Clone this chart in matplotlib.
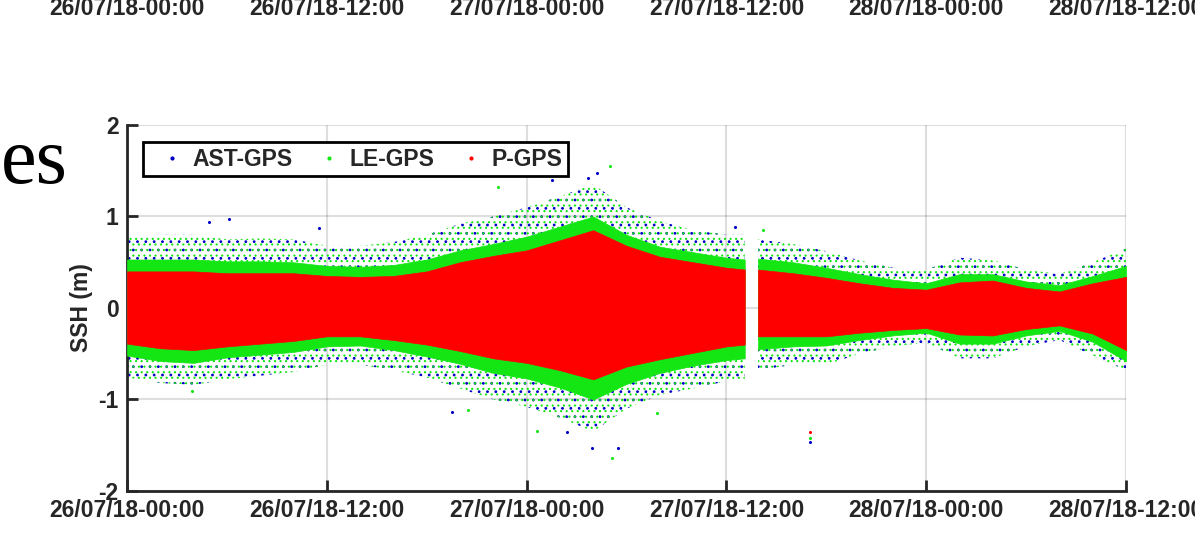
import matplotlib
matplotlib.use('Agg')
import matplotlib.pyplot as plt
from matplotlib.lines import Line2D

plt.rcParams['font.family'] = ['Liberation Sans', 'DejaVu Sans']
plt.rcParams['font.weight'] = 'bold'
plt.rcParams['hatch.linewidth'] = 0.8

# hours since 26/07/18 00:00, record split by the gap around 27/07 13:00
hours_a = [0, 2, 4, 6, 8, 10, 12, 14, 16, 18, 20, 22, 24, 26, 28, 30, 32, 34, 36, 37.1]
hours_b = [37.9, 40, 42, 44, 46, 48, 50, 52, 54, 56, 58, 60]

# P-GPS (red) spread
p_hi_a = [0.40, 0.40, 0.40, 0.38, 0.38, 0.38, 0.35, 0.34, 0.35, 0.40, 0.50, 0.57, 0.63, 0.74, 0.85, 0.68, 0.56, 0.50, 0.44, 0.42]
p_lo_a = [-0.39, -0.44, -0.46, -0.42, -0.39, -0.36, -0.31, -0.31, -0.35, -0.40, -0.47, -0.55, -0.60, -0.68, -0.78, -0.64, -0.56, -0.49, -0.42, -0.40]
p_hi_b = [0.42, 0.38, 0.33, 0.27, 0.22, 0.20, 0.28, 0.30, 0.22, 0.18, 0.27, 0.34]
p_lo_b = [-0.31, -0.31, -0.31, -0.27, -0.24, -0.22, -0.29, -0.30, -0.23, -0.19, -0.28, -0.46]

# LE-GPS (green) dense spread
le_hi_a = [0.53, 0.53, 0.53, 0.51, 0.51, 0.50, 0.46, 0.45, 0.47, 0.53, 0.63, 0.70, 0.78, 0.89, 1.00, 0.80, 0.67, 0.61, 0.55, 0.53]
le_lo_a = [-0.52, -0.58, -0.60, -0.54, -0.51, -0.48, -0.42, -0.41, -0.46, -0.53, -0.61, -0.71, -0.77, -0.87, -1.00, -0.83, -0.71, -0.63, -0.57, -0.55]
le_hi_b = [0.54, 0.50, 0.44, 0.37, 0.31, 0.27, 0.37, 0.37, 0.29, 0.25, 0.35, 0.46]
le_lo_b = [-0.45, -0.42, -0.41, -0.35, -0.30, -0.27, -0.39, -0.39, -0.30, -0.25, -0.37, -0.58]

# AST-GPS (blue) and LE-GPS (green) sparse outer spread
ast_hi_a = [0.78, 0.80, 0.80, 0.75, 0.76, 0.75, 0.68, 0.68, 0.72, 0.80, 0.92, 1.00, 1.10, 1.22, 1.35, 1.10, 0.95, 0.85, 0.80, 0.80]
ast_lo_a = [-0.76, -0.82, -0.84, -0.78, -0.74, -0.70, -0.62, -0.62, -0.68, -0.76, -0.88, -1.00, -1.08, -1.20, -1.35, -1.10, -0.95, -0.88, -0.80, -0.78]
ast_hi_b = [0.75, 0.70, 0.62, 0.52, 0.44, 0.42, 0.55, 0.52, 0.42, 0.37, 0.50, 0.65]
ast_lo_b = [-0.68, -0.62, -0.62, -0.50, -0.42, -0.38, -0.55, -0.55, -0.42, -0.35, -0.52, -0.68]

# isolated samples outside the main spread
ast_out_t = [4.9, 6.1, 11.5, 19.5, 25.5, 26.4, 27.7, 27.9, 28.2, 29.5, 36.5, 41.0]
ast_out_v = [0.94, 0.97, 0.87, -1.14, 1.40, -1.36, 1.42, -1.53, 1.48, -1.53, 0.88, -1.47]
le_out_t = [3.9, 20.5, 22.3, 24.6, 29.0, 29.1, 31.8, 38.2, 41.0]
le_out_v = [-0.91, -1.11, 1.32, -1.34, 1.55, -1.64, -1.15, 0.85, -1.42]
p_out_t = [41.0]
p_out_v = [-1.35]

tick_hours = [0, 12, 24, 36, 48, 60]
tick_labels = ['26/07/18-00:00', '26/07/18-12:00', '27/07/18-00:00',
               '27/07/18-12:00', '28/07/18-00:00', '28/07/18-12:00']

c_ast = '#0000c8'
c_le = '#14e614'
c_p = '#ff0000'
ink = '#262626'
fs = 16.5

fig = plt.figure(figsize=(11.95, 5.43), dpi=100)
ax = fig.add_axes([0.1063, 0.0958, 0.836, 0.674])

for t, lo, hi in [(hours_a, ast_lo_a, ast_hi_a), (hours_b, ast_lo_b, ast_hi_b)]:
    ax.fill_between(t, lo, hi, facecolor='none', edgecolor=c_ast, hatch='..', lw=0, zorder=2)
    ax.fill_between(t, lo, hi, facecolor='none', edgecolor=c_le, hatch='...', lw=0, zorder=2.5)
for t, lo, hi in [(hours_a, le_lo_a, le_hi_a), (hours_b, le_lo_b, le_hi_b)]:
    ax.fill_between(t, lo, hi, facecolor=c_le, edgecolor=c_le, lw=0.5, zorder=3)
for t, lo, hi in [(hours_a, p_lo_a, p_hi_a), (hours_b, p_lo_b, p_hi_b)]:
    ax.fill_between(t, lo, hi, facecolor=c_p, edgecolor=c_p, lw=0.5, zorder=4)

ax.scatter(ast_out_t, ast_out_v, s=5, color=c_ast, lw=0, zorder=5)
ax.scatter(le_out_t, le_out_v, s=5, color=c_le, lw=0, zorder=5)
ax.scatter(p_out_t, p_out_v, s=5, color=c_p, lw=0, zorder=5)

ax.set_xlim(0, 60)
ax.set_ylim(-2, 2)
ax.set_xticks(tick_hours)
ax.set_xticklabels(tick_labels)
ax.set_yticks([-2, -1, 0, 1, 2])
ax.set_yticklabels(['-2', '-1', '0', '1', '2'])
ax.set_ylabel('SSH (m)', fontsize=fs, fontweight='bold', color=ink, labelpad=4)

ax.grid(True, color='#262626', alpha=0.15, lw=1.5)
ax.set_axisbelow(True)
for side in ['top', 'right']:
    ax.spines[side].set_visible(False)
for side in ['left', 'bottom']:
    ax.spines[side].set_linewidth(2)
    ax.spines[side].set_color(ink)
ax.tick_params(direction='in', length=8, width=2, colors=ink, labelsize=fs, pad=6)

handles = [Line2D([], [], ls='none', marker='.', markersize=4, color=c) for c in (c_ast, c_le, c_p)]
leg = ax.legend(handles, ['AST-GPS', 'LE-GPS', 'P-GPS'], loc='upper left',
                bbox_to_anchor=(0.016, 0.954), borderaxespad=0, ncol=3, fancybox=False,
                framealpha=1, edgecolor='black', fontsize=fs, handlelength=2.0,
                handletextpad=-0.1, columnspacing=0.6, borderpad=0.25)
leg.get_frame().set_linewidth(2)
for txt in leg.get_texts():
    txt.set_color(ink)

# tick labels of the panel above, cut by the figure edge
for h, lab in zip(tick_hours, tick_labels):
    fig.text((127 + h * 16.65) / 1195, 1 - 8.5 / 543, lab, ha='center', va='center',
             fontsize=fs, fontweight='bold', color=ink)

fig.text(68 / 1195, 1 - 163 / 543, 'es', ha='right', va='center', fontsize=58,
         family='Liberation Serif', fontweight='normal', color='black')

fig.savefig('out.png', dpi=100)
